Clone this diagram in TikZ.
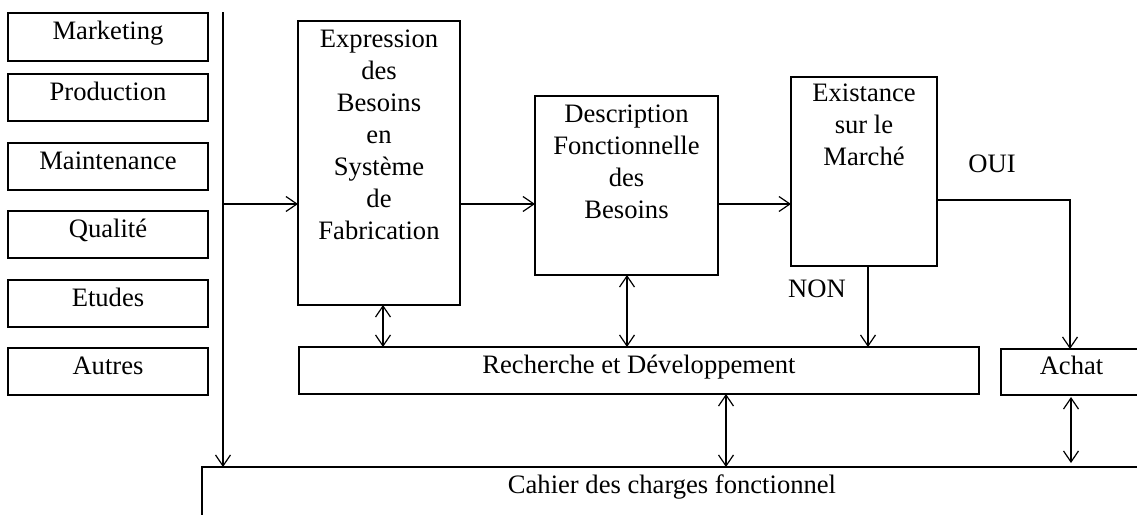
\documentclass[tikz,border=0pt]{standalone}
\usepackage{fontspec}
\setmainfont{Liberation Serif}
\usetikzlibrary{arrows.meta}
\begin{document}
\begin{tikzpicture}[x=1pt,y=-1pt, line width=1.2pt,
  box/.style={draw, inner sep=0pt, outer sep=0pt, anchor=north west},
  lbl/.style={anchor=north, inner sep=0pt, align=center, font=\fontsize{26.6}{32}\selectfont},
  tag/.style={anchor=base, inner sep=0pt, font=\fontsize{26.6}{32}\selectfont},
  arr/.style={-{Straight Barb[length=11pt,width=15pt]}},
  darr/.style={{Straight Barb[length=11pt,width=15pt]}-{Straight Barb[length=11pt,width=15pt]}}]
\useasboundingbox (0,0) rectangle (1137,514);
\clip (0,0) rectangle (1137,514);
% left boxes
\node[box, minimum width=200pt, minimum height=48pt] (mk) at (8,13) {};
\node[box, minimum width=200pt, minimum height=47pt] (pr) at (8,74) {};
\node[box, minimum width=200pt, minimum height=47pt] (mt) at (8,143) {};
\node[box, minimum width=200pt, minimum height=47pt] (ql) at (8,211) {};
\node[box, minimum width=200pt, minimum height=47pt] (et) at (8,280) {};
\node[box, minimum width=200pt, minimum height=47pt] (au) at (8,348) {};
\node[lbl] (mkt) at ([yshift=-3pt]mk.north) {\strut Marketing};
\node[lbl] (prt) at ([yshift=-3pt]pr.north) {\strut Production};
\node[lbl] (mtt) at ([yshift=-3pt]mt.north) {\strut Maintenance};
\node[lbl] (qlt) at ([yshift=-3pt]ql.north) {\strut Qualité};
\node[lbl] (ett) at ([yshift=-3pt]et.north) {\strut Etudes};
\node[lbl] (aut) at ([yshift=-3pt]au.north) {\strut Autres};
% main boxes
\node[box, minimum width=162pt, minimum height=284pt] (ex) at (298,21) {};
\node[lbl] (ext) at ([yshift=-3pt]ex.north) {\strut Expression\\des\\Besoins\\en\\Système\\de\\Fabrication};
\node[box, minimum width=183pt, minimum height=179pt] (de) at (535,96) {};
\node[lbl] (det) at ([yshift=-3pt]de.north) {\strut Description\\Fonctionnelle\\des\\Besoins};
\node[box, minimum width=146pt, minimum height=189pt] (ma) at (791,77) {};
\node[lbl] (mat) at ([yshift=-1pt]ma.north) {\strut Existance\\sur le\\Marché};
\node[box, minimum width=680pt, minimum height=47pt] (rd) at (299,347) {};
\node[lbl] (rdt) at ([yshift=-3pt]rd.north) {\strut Recherche et Développement};
\node[box, minimum width=141pt, minimum height=46pt] (ac) at (1001,349) {};
\node[lbl] (act) at ([yshift=-2pt]ac.north) {\strut Achat};
\node[box, minimum width=940pt, minimum height=70pt] (cf) at (202,467) {};
\node[lbl] (cft) at ([yshift=-3pt]cf.north) {\strut Cahier des charges fonctionnel};
% labels
\node[tag] (oui) at (992,172) {OUI};
\node[tag] (non) at (817,297) {NON};
% connectors
\coordinate (vtop) at (223,12);
\coordinate (j1) at (223,204);
\coordinate (ouic) at (1070,200);
\coordinate (nonx) at (868,0);
\draw[arr] (vtop) -- (vtop |- cf.north);
\draw[arr] (j1) -- (ex.west |- j1);
\draw[arr] (ex.east |- j1) -- (de.west |- j1);
\draw[arr] (de.east |- j1) -- (ma.west |- j1);
\draw[arr] (ma.east |- ouic) -- (ouic) -- (ouic |- ac.north);
\draw[arr] (ma.south -| nonx) -- (rd.north -| nonx);
\coordinate (d1) at (383,0);
\coordinate (d2) at (627,0);
\coordinate (d3) at (726,0);
\coordinate (d4) at (1071,0);
\draw[darr] (ex.south -| d1) -- (rd.north -| d1);
\draw[darr] (de.south -| d2) -- (rd.north -| d2);
\draw[darr] (rd.south -| d3) -- (cf.north -| d3);
\draw[darr, shorten <=2pt, shorten >=4pt] (ac.south -| d4) -- (cf.north -| d4);
\end{tikzpicture}
\end{document}
